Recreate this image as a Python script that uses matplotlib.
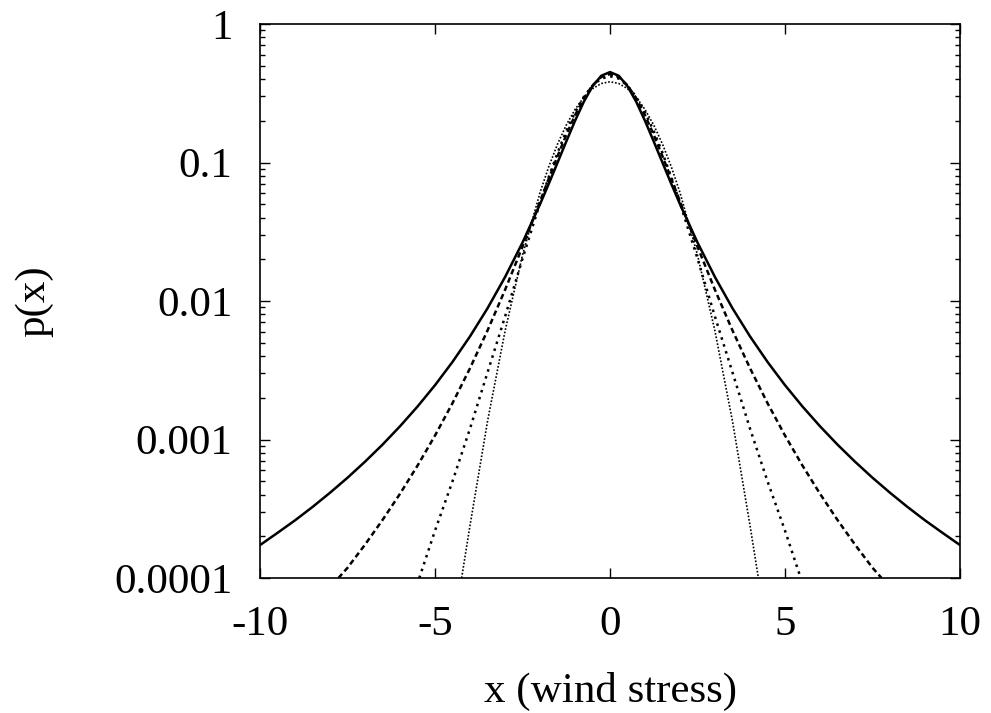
import matplotlib
matplotlib.use("Agg")
import matplotlib.pyplot as plt
from matplotlib.ticker import LogLocator, NullFormatter, FixedLocator

# values (log y axis), x in wind stress units
x_solid = [-10, -9.5, -9, -8.5, -8, -7.5, -7, -6.5, -6, -5.5, -5, -4.5, -4, -3.5, -3,
           -2.5, -2, -1.75, -1.5, -1.25, -1, -0.75, -0.5, -0.25, 0,
           0.25, 0.5, 0.75, 1, 1.25, 1.5, 1.75, 2, 2.5, 3, 3.5, 4, 4.5, 5,
           5.5, 6, 6.5, 7, 7.5, 8, 8.5, 9, 9.5, 10]
p_solid = [1.73e-4, 2.12e-4, 2.61e-4, 3.26e-4, 4.13e-4, 5.30e-4, 6.92e-4, 9.19e-4, 1.247e-3,
           1.731e-3, 2.469e-3, 3.636e-3, 5.556e-3, 8.864e-3, 0.01488,
           0.02645, 0.050, 0.0702, 0.0997, 0.1418, 0.200, 0.2741, 0.3556, 0.4231, 0.450,
           0.4231, 0.3556, 0.2741, 0.200, 0.1418, 0.0997, 0.0702, 0.050, 0.02645, 0.01488,
           8.864e-3, 5.556e-3, 3.636e-3, 2.469e-3,
           1.731e-3, 1.247e-3, 9.19e-4, 6.92e-4, 5.30e-4, 4.13e-4, 3.26e-4, 2.61e-4, 2.12e-4, 1.73e-4]

x_dashed = [-7.76, -7.5, -7, -6.5, -6, -5.5, -5, -4.5, -4, -3.5, -3, -2.5, -2, -1.75, -1.5,
            -1.25, -1, -0.75, -0.5, -0.25, 0,
            0.25, 0.5, 0.75, 1, 1.25, 1.5, 1.75, 2, 2.5, 3, 3.5, 4, 4.5, 5, 5.5, 6,
            6.5, 7, 7.5, 7.76]
p_dashed = [1.0e-4, 1.186e-4, 1.743e-4, 2.625e-4, 4.06e-4, 6.48e-4, 1.069e-3, 1.832e-3,
            3.274e-3, 6.126e-3, 0.01202, 0.02468, 0.05234, 0.07645, 0.1109,
            0.1583, 0.2193, 0.2904, 0.3610, 0.4147, 0.435,
            0.4147, 0.3610, 0.2904, 0.2193, 0.1583, 0.1109, 0.07645, 0.05234, 0.02468,
            0.01202, 6.126e-3, 3.274e-3, 1.832e-3, 1.069e-3, 6.48e-4, 4.06e-4,
            2.625e-4, 1.743e-4, 1.186e-4, 1.0e-4]

x_short = [-5.45, -5, -4.5, -4, -3.5, -3, -2.5, -2, -1.75, -1.5, -1.25, -1, -0.75, -0.5,
           -0.25, 0, 0.25, 0.5, 0.75, 1, 1.25, 1.5, 1.75, 2, 2.5, 3, 3.5, 4, 4.5, 5, 5.45]
p_short = [1.0e-4, 2.2e-4, 5.0e-4, 1.2e-3, 3.05e-3, 7.70e-3, 0.02023, 0.0510, 0.07853,
           0.1173, 0.1685, 0.2304, 0.2974, 0.3594, 0.4038, 0.420,
           0.4038, 0.3594, 0.2974, 0.2304, 0.1685, 0.1173, 0.07853, 0.0510, 0.02023,
           7.70e-3, 3.05e-3, 1.2e-3, 5.0e-4, 2.2e-4, 1.0e-4]

x_dotted = [-4.24, -4, -3.5, -3, -2.5, -2, -1.75, -1.5, -1.25, -1, -0.75, -0.5, -0.25, 0,
            0.25, 0.5, 0.75, 1, 1.25, 1.5, 1.75, 2, 2.5, 3, 3.5, 4, 4.24]
p_dotted = [1.0e-4, 2.4e-4, 1.354e-3, 6.054e-3, 0.0215, 0.06063, 0.09337, 0.1358, 0.1864,
            0.2416, 0.2956, 0.3413, 0.3721, 0.383,
            0.3721, 0.3413, 0.2956, 0.2416, 0.1864, 0.1358, 0.09337, 0.06063, 0.0215,
            6.054e-3, 1.354e-3, 2.4e-4, 1.0e-4]

x_ticks = [-10, -5, 0, 5, 10]
y_ticks = [1e-4, 1e-3, 1e-2, 1e-1, 1]
y_labels = ["0.0001", "0.001", "0.01", "0.1", "1"]

plt.rcParams['font.family'] = ['Liberation Serif', 'DejaVu Serif']
plt.rcParams['font.size'] = 31
plt.rcParams['axes.unicode_minus'] = False

fig = plt.figure(figsize=(9.91, 7.13), dpi=100)
ax = fig.add_axes([0.2624, 0.1893, 0.7063, 0.777])

ax.plot(x_solid, p_solid, color='black', lw=1.8, solid_capstyle='butt')
ax.plot(x_dashed, p_dashed, color='black', lw=1.8, linestyle=(0, (2.2, 1.4)))
ax.plot(x_short, p_short, color='black', lw=1.8, linestyle=(0, (1, 1.9)))
ax.plot(x_dotted, p_dotted, color='black', lw=1.2, linestyle=(0, (1, 1.1)))

ax.set_yscale('log')
ax.set_xlim(-10, 10)
ax.set_ylim(1e-4, 1)

ax.xaxis.set_major_locator(FixedLocator(x_ticks))
ax.set_yticks(y_ticks)
ax.set_yticklabels(y_labels)
ax.yaxis.set_minor_locator(LogLocator(base=10, subs=range(2, 10)))
ax.yaxis.set_minor_formatter(NullFormatter())

ax.tick_params(which='both', direction='in', top=True, right=True, width=1.0)
ax.tick_params(which='major', length=7)
ax.tick_params(which='minor', length=3.5)
ax.tick_params(axis='x', pad=20)
ax.tick_params(axis='y', pad=20)
for s in ax.spines.values():
    s.set_linewidth(1.2)

ax.set_xlabel('x (wind stress)', labelpad=20)
ax.set_ylabel('p(x)', labelpad=44)

plt.savefig('out.png', dpi=100)
